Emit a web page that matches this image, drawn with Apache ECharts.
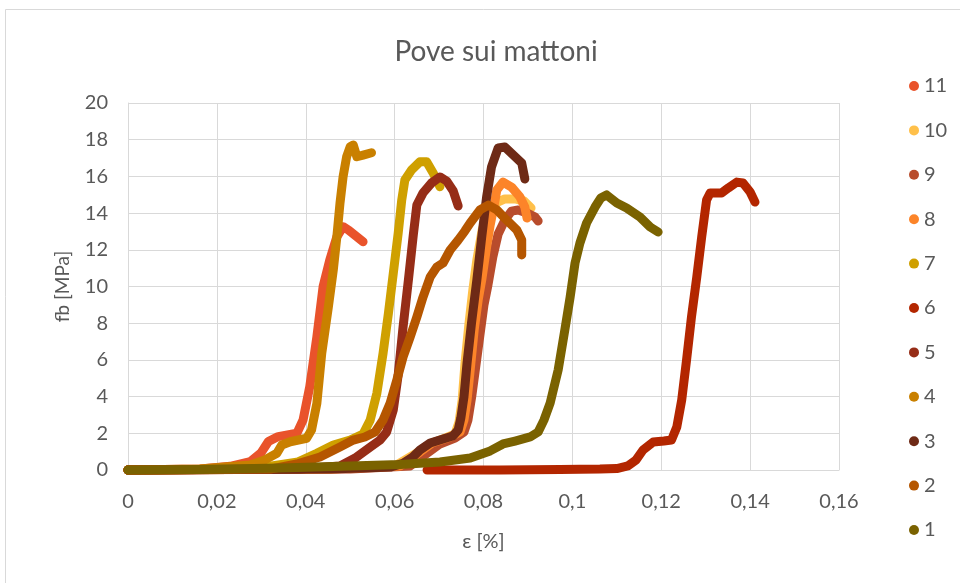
<!DOCTYPE html>
<html>
<head>
<meta charset="utf-8">
<script src="https://cdn.jsdelivr.net/npm/echarts@6/dist/echarts.min.js"></script>
<style>
  html, body { margin: 0; padding: 0; background: #ffffff; }
  #chart { width: 960px; height: 583px; }
</style>
</head>
<body>
<div id="chart"></div>
<script>
// Prove di compressione sui mattoni: deformazione ε [%] contro tensione fb [MPa]
const seriesNames = ['11', '10', '9', '8', '7', '6', '5', '4', '3', '2', '1'];
const seriesColors = ['#E9532B', '#FFC04A', '#B84C2C', '#FC8429', '#CFA000', '#B32600',
                      '#962D17', '#C98000', '#6E2A16', '#B55600', '#7A6200'];

const xTicks = [0, 0.02, 0.04, 0.06, 0.08, 0.1, 0.12, 0.14, 0.16];
const yTicks = [0, 2, 4, 6, 8, 10, 12, 14, 16, 18, 20];

// [ε, fb] per ogni prova
const prova11 = [[0,0],[0.0162,0.05],[0.023,0.2],[0.0275,0.45],[0.0299,0.92],[0.0316,1.55],[0.0338,1.82],
  [0.038,2.0],[0.0394,2.73],[0.0409,4.54],[0.0425,7.26],[0.0439,9.99],[0.0454,11.44],[0.047,12.71],
  [0.0484,13.26],[0.0496,13.08],[0.0515,12.71],[0.0529,12.44]];
const prova10 = [[0,0],[0.0455,0.05],[0.0601,0.22],[0.0653,0.98],[0.068,1.42],[0.0713,1.74],[0.0736,1.96],
  [0.0745,2.62],[0.0752,3.81],[0.0758,5.72],[0.0767,7.9],[0.0776,9.81],[0.0785,11.44],[0.0797,13.08],
  [0.081,14.01],[0.0828,14.55],[0.0848,14.77],[0.0871,14.77],[0.0891,14.66],[0.0907,14.28]];
const prova9 = [[0,0],[0.05,0.05],[0.0635,0.22],[0.0668,0.82],[0.0702,1.42],[0.0736,1.74],[0.0756,2.07],
  [0.0765,2.72],[0.0774,4.09],[0.0783,5.72],[0.0792,7.36],[0.0801,8.99],[0.081,10.08],[0.0821,11.61],
  [0.0833,12.86],[0.0848,13.62],[0.0863,14.11],[0.0878,14.17],[0.0898,14.01],[0.0916,13.79],[0.0923,13.57]];
const prova8 = [[0,0],[0.0455,0.05],[0.0612,0.22],[0.0657,0.98],[0.0684,1.47],[0.0725,1.8],[0.0747,2.07],
  [0.0756,2.72],[0.0763,3.81],[0.077,5.45],[0.0779,7.63],[0.0788,9.26],[0.0796,10.35],[0.0807,12.15],
  [0.0815,13.35],[0.0824,14.44],[0.083,15.26],[0.0844,15.69],[0.0863,15.42],[0.0882,14.88],
  [0.0893,14.33],[0.0898,13.73]];
const prova7 = [[0,0],[0.0275,0.05],[0.0383,0.44],[0.0425,0.91],[0.0462,1.36],[0.05,1.63],[0.0529,1.96],
  [0.0545,2.72],[0.056,4.18],[0.0574,6.36],[0.0586,8.54],[0.0597,10.72],[0.0608,12.9],[0.0616,14.71],
  [0.0623,15.8],[0.0638,16.35],[0.0657,16.8],[0.0672,16.8],[0.0687,16.17],[0.0702,15.44]];
const prova6 = [[0.0673,0],[0.0837,0],[0.0972,0.03],[0.1062,0.05],[0.11,0.08],[0.1125,0.22],[0.1143,0.54],
  [0.1159,1.09],[0.1182,1.53],[0.1206,1.58],[0.1223,1.63],[0.1235,2.34],[0.1246,3.81],[0.1257,6.0],
  [0.1268,8.34],[0.128,10.52],[0.1291,12.7],[0.1302,14.71],[0.131,15.1],[0.1336,15.1],[0.1351,15.37],
  [0.137,15.69],[0.1384,15.64],[0.14,15.15],[0.1411,14.6]];
const prova5 = [[0,0],[0.0387,0.05],[0.0477,0.22],[0.0511,0.65],[0.0545,1.25],[0.0567,1.63],[0.0582,2.07],
  [0.0597,3.27],[0.0608,5.18],[0.0619,7.79],[0.0631,10.35],[0.0642,12.81],[0.065,14.44],[0.0664,15.1],
  [0.0683,15.64],[0.0702,15.97],[0.0717,15.75],[0.0732,15.2],[0.0743,14.39]];
const prova4 = [[0,0],[0.0162,0.05],[0.0275,0.27],[0.0308,0.55],[0.0335,0.91],[0.0346,1.36],[0.0365,1.54],
  [0.0402,1.73],[0.0413,2.18],[0.0425,3.63],[0.0436,6.36],[0.0451,8.9],[0.0462,10.9],[0.047,12.71],
  [0.0477,14.53],[0.0484,15.98],[0.0492,17.07],[0.05,17.62],[0.0507,17.71],[0.0515,17.07],
  [0.0529,17.16],[0.0548,17.29]];
const prova3 = [[0,0],[0.0455,0.05],[0.059,0.16],[0.0619,0.37],[0.0641,0.71],[0.0657,1.09],[0.068,1.47],
  [0.0709,1.69],[0.0731,1.85],[0.0743,2.18],[0.0749,2.83],[0.0756,3.98],[0.0763,5.83],[0.0773,8.01],
  [0.0785,10.35],[0.0796,12.7],[0.0807,14.88],[0.0818,16.51],[0.0833,17.55],[0.0848,17.6],
  [0.0867,17.17],[0.0886,16.73],[0.0893,15.86]];
const prova2 = [[0,0],[0.032,0.05],[0.038,0.33],[0.0432,0.71],[0.0477,1.25],[0.0507,1.63],[0.0533,1.8],
  [0.0556,2.07],[0.0574,2.72],[0.059,3.65],[0.0605,4.9],[0.0619,6.16],[0.0635,7.25],[0.065,8.34],
  [0.0664,9.43],[0.068,10.52],[0.0695,11.06],[0.0709,11.28],[0.0725,11.99],[0.0743,12.53],
  [0.0758,13.02],[0.077,13.46],[0.0792,14.17],[0.0811,14.44],[0.083,14.17],[0.0852,13.62],
  [0.0875,13.08],[0.0886,12.53],[0.0886,11.72]];
const prova1 = [[0,0],[0.0162,0.03],[0.0342,0.11],[0.05,0.22],[0.0612,0.3],[0.0702,0.44],[0.077,0.65],
  [0.0815,1.04],[0.0844,1.42],[0.0871,1.58],[0.0905,1.8],[0.0923,2.07],[0.0936,2.72],[0.095,3.65],
  [0.0968,5.45],[0.0983,7.63],[0.0995,9.43],[0.1006,11.28],[0.1017,12.37],[0.1032,13.46],
  [0.1051,14.33],[0.1064,14.82],[0.1077,14.99],[0.11,14.55],[0.1122,14.28],[0.1152,13.79],
  [0.1175,13.24],[0.1193,12.97]];

const seriesData = [prova11, prova10, prova9, prova8, prova7, prova6, prova5, prova4, prova3, prova2, prova1];

const chart = echarts.init(document.getElementById('chart'), null, { renderer: 'canvas' });
const textColor = '#595959';
const font = 'Lato, "Open Sans", sans-serif';

chart.setOption({
  animation: false,
  backgroundColor: '#ffffff',
  graphic: [{
    type: 'rect',
    shape: { x: 5.5, y: 9.5, width: 960, height: 580 },
    style: { fill: 'none', stroke: '#D9D9D9', lineWidth: 1 },
    silent: true
  }],
  title: {
    text: 'Pove sui mattoni',
    left: 491, top: 33, textAlign: 'center',
    textStyle: { color: textColor, fontSize: 28, fontWeight: 'normal', fontFamily: font }
  },
  legend: {
    orient: 'vertical',
    left: 904, top: 71,
    icon: 'circle',
    itemWidth: 10, itemHeight: 10,
    itemGap: 24.4,
    data: seriesNames,
    textStyle: { color: textColor, fontSize: 20, fontFamily: font, lineHeight: 20 }
  },
  grid: { left: 128, right: 121, top: 103, bottom: 113 },
  xAxis: {
    type: 'value', min: 0, max: 0.16, interval: 0.02,
    name: 'ε [%]', nameLocation: 'middle', nameGap: 62,
    nameTextStyle: { color: textColor, fontSize: 20, fontFamily: font },
    axisLine: { show: true, lineStyle: { color: '#D9D9D9', width: 1 } },
    axisTick: { show: false },
    axisLabel: {
      color: textColor, fontSize: 20, fontFamily: font, margin: 22,
      formatter: v => String(+v.toFixed(4)).replace('.', ',')
    },
    splitLine: { show: true, lineStyle: { color: '#D9D9D9', width: 1 } }
  },
  yAxis: {
    type: 'value', min: 0, max: 20, interval: 2,
    name: 'fb [MPa]', nameLocation: 'middle', nameGap: 56,
    nameTextStyle: { color: textColor, fontSize: 19, fontFamily: font },
    axisLine: { show: true, lineStyle: { color: '#D9D9D9', width: 1 } },
    axisTick: { show: false },
    axisLabel: { color: textColor, fontSize: 20, fontFamily: font, margin: 20 },
    splitLine: { show: true, lineStyle: { color: '#D9D9D9', width: 1 } }
  },
  series: seriesNames.map((name, i) => ({
    name: name,
    type: 'line',
    data: seriesData[i],
    color: seriesColors[i],
    showSymbol: false,
    symbol: 'circle',
    lineStyle: { width: 9, cap: 'round', join: 'round', color: seriesColors[i] },
    itemStyle: { color: seriesColors[i] },
    clip: false
  }))
});
</script>
</body>
</html>
